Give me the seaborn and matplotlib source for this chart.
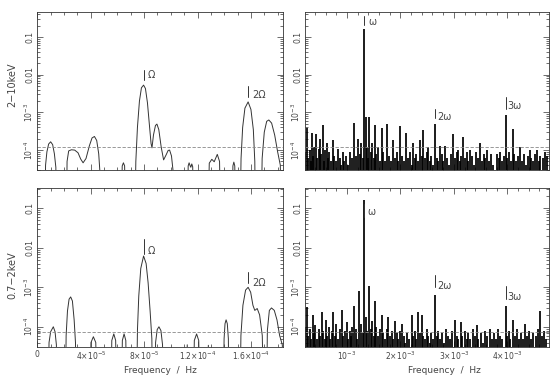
import matplotlib
matplotlib.use("Agg")
import matplotlib.pyplot as plt
import seaborn as sns
import numpy as np
import pandas as pd
from matplotlib.ticker import MultipleLocator, LogLocator, NullFormatter

# --- left panels: power spectrum around Omega (freq in 1e-6 Hz) ---
hard_freq = [5.6, 6.2, 7.2, 8.5, 10.0, 11.5, 12.8, 13.9, 14.4,
             21.8, 22.3, 23.5, 25.5, 28.0, 30.5, 32.5, 34.3, 36.5, 39.0, 41.0, 42.8, 44.5, 46.0, 46.8, 47.2,
             62.8, 63.6, 64.5, 65.4, 66.2,
             73.0, 73.8, 75.0, 76.5, 78.0, 79.6, 81.0, 82.5, 84.0, 85.2, 85.9, 87.0, 88.5, 89.6, 91.0, 92.8,
             94.6, 96.5, 98.0, 99.1, 100.5, 101.6, 102.0,
             112.5, 113.0, 113.7, 114.5, 115.0, 115.7, 116.4, 117.0,
             127.8, 128.8, 130.7, 132.5, 134.8, 136.5, 137.3,
             145.8, 146.5, 147.2, 147.9, 148.6,
             151.8, 152.6, 153.8, 155.5, 157.9, 160.0, 161.8, 162.9, 163.4,
             167.6, 168.4, 170.0, 171.8, 173.4, 175.5, 177.8, 180.0, 182.0, 182.8]
hard_pow = [1e-6, 4e-5, 9e-5, 1.45e-4, 1.66e-4, 1.4e-4, 8e-5, 3.5e-5, 1e-6,
            1e-6, 5e-5, 9.5e-5, 1.02e-4, 1.0e-4, 8.5e-5, 5.8e-5, 4.6e-5, 6e-5, 1.3e-4, 2.1e-4, 2.3e-4, 1.8e-4, 8e-5, 3e-5, 1e-6,
            1e-6, 3.8e-5, 4.6e-5, 3.8e-5, 1e-6,
            1e-6, 5e-5, 4e-4, 2e-3, 4.5e-3, 5.3e-3, 4.3e-3, 1.8e-3, 4.5e-4, 1.5e-4, 1.15e-4, 2.5e-4, 4.5e-4, 4.9e-4, 3.5e-4, 1.2e-4,
            5.5e-5, 7.5e-5, 9.8e-5, 1.0e-4, 7e-5, 3e-5, 1e-6,
            1e-6, 3.8e-5, 4.6e-5, 3.8e-5, 3.5e-5, 4.3e-5, 3.6e-5, 1e-6,
            1e-6, 4.5e-5, 5.7e-5, 4.9e-5, 7.7e-5, 5e-5, 1e-6,
            1e-6, 3.8e-5, 4.8e-5, 3.8e-5, 1e-6,
            1e-6, 6e-5, 4e-4, 1.3e-3, 1.9e-3, 1.2e-3, 3.5e-4, 5e-5, 1e-6,
            1e-6, 6e-5, 3e-4, 5.8e-4, 6.3e-4, 5.2e-4, 2.5e-4, 9e-5, 4e-5, 1e-6]

soft_freq = [8.0, 8.8, 10.0, 12.0, 13.3, 14.3, 14.8,
             21.0, 21.6, 22.6, 23.8, 25.0, 26.3, 27.6, 28.6, 29.0,
             39.3, 40.2, 42.0, 43.8, 44.8,
             55.0, 55.8, 57.3, 58.7, 59.4,
             63.0, 63.7, 65.0, 66.3, 67.0,
             74.3, 75.0, 76.0, 77.5, 79.6, 81.5, 83.0, 84.5, 85.8, 86.4,
             88.0, 88.6, 89.8, 91.1, 92.6, 93.8, 94.3,
             111.6, 112.3, 113.0,
             116.8, 117.6, 119.3, 120.9, 121.8,
             127.4, 128.1, 128.8,
             139.3, 139.9, 140.6, 141.4, 142.3, 143.1, 143.6,
             151.8, 152.5, 154.0, 156.0, 157.9, 159.8, 161.5, 162.9, 164.7, 166.5, 168.5, 169.5,
             171.7, 172.3, 173.8, 175.4, 177.5, 179.5, 181.5, 183.5, 184.5]
soft_pow = [1e-6, 4e-5, 7.5e-5, 1.0e-4, 7.5e-5, 3.5e-5, 1e-6,
            1e-6, 6e-5, 2.5e-4, 5e-4, 5.7e-4, 4.5e-4, 1.5e-4, 4e-5, 1e-6,
            1e-6, 4e-5, 5.6e-5, 4e-5, 1e-6,
            1e-6, 4.5e-5, 6.6e-5, 4.5e-5, 1e-6,
            1e-6, 4.5e-5, 6.6e-5, 4.5e-5, 1e-6,
            1e-6, 8e-5, 6e-4, 3e-3, 6.2e-3, 4e-3, 1.3e-3, 2.5e-4, 5e-5, 1e-6,
            1e-6, 4e-5, 8.5e-5, 1.0e-4, 8e-5, 3.5e-5, 1e-6,
            1e-6, 3.5e-5, 1e-6,
            1e-6, 4.5e-5, 6.6e-5, 4.5e-5, 1e-6,
            1e-6, 3.4e-5, 1e-6,
            1e-6, 5e-5, 1.2e-4, 1.5e-4, 1.2e-4, 5e-5, 1e-6,
            1e-6, 6e-5, 3.5e-4, 8.5e-4, 1.0e-3, 7.5e-4, 3.5e-4, 2.6e-4, 2.9e-4, 2e-4, 6e-5, 1e-6,
            1e-6, 8e-5, 2.6e-4, 3.0e-4, 2.6e-4, 1.5e-4, 6e-5, 3.5e-5, 1e-6]

# --- right panels: spike periodogram (freq in mHz, power in 1e-4) ---
hard_spk_f = [0.22, 0.245, 0.27, 0.30, 0.32, 0.339, 0.36, 0.39, 0.419, 0.44, 0.47, 0.494, 0.52, 0.545, 0.57,
              0.595, 0.62, 0.645, 0.67, 0.70, 0.738, 0.76, 0.79, 0.831, 0.86, 0.89, 0.925, 0.95, 0.98, 1.01,
              1.056, 1.09, 1.131, 1.16, 1.206, 1.235, 1.262, 1.29, 1.324, 1.346, 1.37, 1.39, 1.412, 1.44, 1.468,
              1.50, 1.524, 1.55, 1.581, 1.61, 1.650, 1.68, 1.71, 1.755, 1.78, 1.82, 1.861, 1.89, 1.93, 1.96,
              1.993, 2.02, 2.06, 2.105, 2.14, 2.18, 2.21, 2.236, 2.27, 2.30, 2.33, 2.367, 2.40, 2.429, 2.46,
              2.49, 2.517, 2.55, 2.58, 2.61, 2.648, 2.68, 2.71, 2.742, 2.77, 2.80, 2.835, 2.87, 2.90, 2.94,
              2.991, 3.02, 3.05, 3.079, 3.11, 3.14, 3.167, 3.20, 3.24, 3.27, 3.303, 3.34, 3.37, 3.41, 3.45,
              3.491, 3.52, 3.56, 3.59, 3.622, 3.66, 3.70, 3.74, 3.803, 3.84, 3.87, 3.91, 3.94, 3.97, 4.00,
              4.03, 4.07, 4.103, 4.13, 4.17, 4.20, 4.240, 4.27, 4.31, 4.35, 4.38, 4.419, 4.45, 4.49, 4.52,
              4.558, 4.59, 4.62, 4.66, 4.708, 4.74]
hard_spk_p = [0.9, 3.8, 0.6, 1.0, 0.5, 2.8, 0.7, 1.2, 2.7, 0.6, 1.1, 2.0, 0.8, 4.5, 0.5,
              1.0, 1.5, 0.6, 0.9, 0.5, 1.8, 0.7, 0.5, 1.1, 0.6, 0.4, 0.9, 0.5, 0.7, 0.4,
              0.9, 0.6, 5.2, 0.7, 2.0, 0.8, 1.5, 0.6, 1600, 7.5, 1.2, 0.6, 7.5, 0.9, 1.5,
              0.6, 4.6, 0.8, 1.2, 0.5, 3.8, 0.9, 0.5, 4.8, 0.7, 0.5, 1.8, 0.6, 0.9, 0.5,
              4.3, 0.7, 0.5, 2.8, 0.6, 0.9, 0.4, 1.5, 0.6, 0.8, 0.5, 1.8, 0.7, 3.4, 0.6,
              0.9, 1.2, 0.5, 0.7, 0.4, 4.9, 0.6, 0.5, 1.3, 0.8, 0.5, 1.3, 0.6, 0.4, 0.8,
              2.6, 0.6, 0.9, 1.0, 0.5, 0.7, 2.2, 0.6, 0.9, 0.5, 1.0, 0.7, 0.4, 0.9, 0.6,
              1.5, 0.5, 0.8, 0.6, 1.0, 0.5, 0.8, 0.4, 0.8, 0.6, 0.9, 0.5, 0.7, 8.5, 0.6,
              0.9, 0.5, 3.7, 0.8, 0.5, 0.7, 1.2, 0.5, 0.8, 0.4, 0.7, 1.0, 0.6, 0.5, 0.8,
              1.0, 0.5, 0.7, 0.6, 0.9, 0.7]

soft_spk_f = [0.22, 0.245, 0.27, 0.30, 0.33, 0.358, 0.38, 0.41, 0.44, 0.47, 0.50, 0.526, 0.55, 0.58, 0.607,
              0.63, 0.66, 0.69, 0.72, 0.743, 0.77, 0.80, 0.83, 0.86, 0.901, 0.93, 0.96, 0.994, 1.02, 1.05,
              1.08, 1.10, 1.131, 1.16, 1.19, 1.230, 1.26, 1.29, 1.324, 1.35, 1.38, 1.418, 1.44, 1.47, 1.50,
              1.524, 1.55, 1.58, 1.61, 1.650, 1.68, 1.71, 1.74, 1.773, 1.80, 1.84, 1.87, 1.899, 1.93, 1.96,
              1.99, 2.024, 2.06, 2.09, 2.12, 2.16, 2.212, 2.24, 2.27, 2.30, 2.335, 2.37, 2.399, 2.43, 2.46,
              2.49, 2.52, 2.55, 2.58, 2.61, 2.648, 2.68, 2.71, 2.74, 2.78, 2.81, 2.85, 2.89, 2.93, 2.97,
              3.022, 3.05, 3.08, 3.129, 3.16, 3.20, 3.24, 3.27, 3.31, 3.35, 3.39, 3.429, 3.46, 3.50, 3.54,
              3.58, 3.62, 3.678, 3.71, 3.75, 3.79, 3.83, 3.87, 3.91, 3.97, 3.99, 4.03, 4.06, 4.103, 4.14,
              4.18, 4.22, 4.26, 4.30, 4.333, 4.37, 4.41, 4.45, 4.49, 4.53, 4.57, 4.614, 4.65, 4.69, 4.73]
soft_spk_p = [1.0, 3.2, 0.6, 0.9, 0.5, 2.0, 0.7, 1.1, 0.5, 0.9, 0.6, 2.4, 0.8, 0.5, 1.5,
              0.6, 1.0, 0.5, 0.8, 2.4, 0.6, 1.2, 0.5, 0.9, 2.6, 0.6, 0.8, 1.3, 0.5, 0.8,
              0.6, 1.0, 3.3, 0.9, 0.5, 8.0, 1.2, 0.7, 1600, 1.8, 0.8, 11.0, 0.9, 1.4, 0.6,
              4.5, 1.0, 0.6, 0.9, 2.0, 0.7, 0.5, 0.9, 1.8, 0.6, 0.8, 0.5, 1.4, 0.7, 0.5,
              0.8, 1.2, 0.6, 0.4, 0.7, 0.5, 2.0, 0.6, 0.8, 0.5, 2.4, 0.7, 2.0, 0.6, 0.5,
              0.9, 0.6, 0.4, 0.7, 0.5, 6.3, 0.6, 0.8, 0.5, 0.7, 0.4, 0.9, 0.6, 0.5, 0.8,
              1.5, 0.6, 0.5, 1.3, 0.6, 0.8, 0.5, 0.7, 0.5, 0.9, 0.6, 1.1, 0.5, 0.7, 0.4,
              0.8, 0.6, 0.9, 0.5, 0.7, 0.5, 0.9, 0.6, 0.5, 3.3, 0.6, 0.8, 0.5, 1.5, 0.6,
              0.9, 0.5, 0.7, 0.5, 1.2, 0.6, 0.8, 0.5, 0.7, 0.6, 0.9, 2.5, 0.6, 0.8, 0.5]

# 99% levels (dashed)
hard_level = 1.2e-4
soft_level = 7.5e-5

# harmonic markers: (freq Hz, bar bottom, bar top, text x Hz, text y, text)
marks_hard_left = [(79.6e-6, 7.2e-3, 1.33e-2, 82.6e-6, 9.8e-3, "Ω"),
                   (157.9e-6, 2.6e-3, 5.0e-3, 160.8e-6, 2.9e-3, "2Ω")]
marks_soft_left = [(79.6e-6, 6.9e-3, 1.66e-2, 82.4e-6, 8.5e-3, "Ω"),
                   (157.6e-6, 1.26e-3, 2.5e-3, 160.8e-6, 1.3e-3, "2Ω")]
marks_hard_right = [(1.324e-3, 0.21, 0.36, 1.40e-3, 0.25, "ω"),
                    (2.648e-3, 7.1e-4, 1.26e-3, 2.68e-3, 7.6e-4, "2ω"),
                    (3.97e-3, 1.25e-3, 2.6e-3, 4.0e-3, 1.45e-3, "3ω")]
marks_soft_right = [(1.324e-3, 0.06, 0.13, 1.39e-3, 0.082, "ω"),
                    (2.648e-3, 1.0e-3, 2.0e-3, 2.68e-3, 1.05e-3, "2ω"),
                    (3.97e-3, 5.0e-4, 1.05e-3, 4.0e-3, 5.7e-4, "3ω")]

sns.set_style("ticks")
plt.rcParams['font.family'] = ['DejaVu Sans']
LINE = '#333333'
TXT = '#444444'

fig = plt.figure(figsize=(5.5, 3.77), dpi=100)
ax_hl = fig.add_axes([0.0678, 0.549, 0.4467, 0.419])
ax_hr = fig.add_axes([0.5545, 0.549, 0.4436, 0.419])
ax_sl = fig.add_axes([0.0678, 0.0796, 0.4467, 0.4218])
ax_sr = fig.add_axes([0.5545, 0.0796, 0.4436, 0.4218])

ytick_vals = [1e-4, 1e-3, 1e-2, 1e-1]
ytick_labs = ['10$^{-4}$', '10$^{-3}$', '0.01', '0.1']


def style_axes(ax, ylim, left):
    ax.set_yscale('log')
    ax.set_ylim(*ylim)
    ax.set_yticks(ytick_vals)
    ax.set_yticklabels(ytick_labs, rotation=90, va='center')
    ax.yaxis.set_minor_locator(LogLocator(base=10, subs=np.arange(2, 10)))
    ax.yaxis.set_minor_formatter(NullFormatter())
    if left:
        ax.set_xlim(0, 1.84e-4)
        ax.set_xticks([0, 4e-5, 8e-5, 1.2e-4, 1.6e-4])
        ax.set_xticklabels(['0', '4×10$^{-5}$', '8×10$^{-5}$', '1.2×10$^{-4}$', '1.6×10$^{-4}$'])
        ax.xaxis.set_minor_locator(MultipleLocator(1e-5))
    else:
        ax.set_xlim(0.213e-3, 4.78e-3)
        ax.set_xticks([1e-3, 2e-3, 3e-3, 4e-3])
        ax.set_xticklabels(['10$^{-3}$', '2×10$^{-3}$', '3×10$^{-3}$', '4×10$^{-3}$'])
        ax.xaxis.set_minor_locator(MultipleLocator(2e-4))
    ax.tick_params(which='both', direction='in', top=True, right=True,
                   color=LINE, width=0.5, labelsize=5.5, labelcolor=TXT, pad=2)
    ax.tick_params(which='major', length=4)
    ax.tick_params(which='minor', length=2)
    for s in ax.spines.values():
        s.set_linewidth(0.6)
        s.set_color(LINE)
    ax.set_xlabel('')
    ax.set_ylabel('')


def add_marks(ax, marks):
    for f, lo, hi, tx, ty, txt in marks:
        ax.plot([f, f], [lo, hi], color=LINE, lw=0.7)
        ax.text(tx, ty, txt, fontsize=7, color=TXT, ha='left', va='center')


# left curves
for ax, fr, pw, lvl, marks in [(ax_hl, hard_freq, hard_pow, hard_level, marks_hard_left),
                               (ax_sl, soft_freq, soft_pow, soft_level, marks_soft_left)]:
    df = pd.DataFrame({'freq': np.array(fr) * 1e-6, 'power': pw})
    sns.lineplot(data=df, x='freq', y='power', ax=ax, sort=False, estimator=None,
                 color=LINE, lw=0.7)
    ax.axhline(lvl, color='#888888', lw=0.6, ls=(0, (4, 2)))
    add_marks(ax, marks)

# right spikes
for ax, fr, pw, lvl, marks in [(ax_hr, hard_spk_f, hard_spk_p, hard_level, marks_hard_right),
                               (ax_sr, soft_spk_f, soft_spk_p, soft_level, marks_soft_right)]:
    f = np.array(fr) * 1e-3
    p = np.array(pw) * 1e-4
    ax.vlines(f, 1e-6, p, color='black', lw=1.25)
    ax.axhline(lvl, color='#888888', lw=0.6, ls=(0, (4, 2)))
    add_marks(ax, marks)

style_axes(ax_hl, (2.96e-5, 0.46), True)
style_axes(ax_hr, (2.96e-5, 0.46), False)
style_axes(ax_sl, (3.08e-5, 0.327), True)
style_axes(ax_sr, (3.08e-5, 0.327), False)

ax_hl.tick_params(labelbottom=False)
ax_hr.tick_params(labelbottom=False)

ax_hl.set_ylabel('2−10keV', fontsize=7, color=TXT)
ax_hl.yaxis.set_label_coords(-0.08, 0.54)
ax_sl.set_ylabel('0.7−2keV', fontsize=7, color=TXT)
ax_sl.yaxis.set_label_coords(-0.08, 0.45)

ax_sl.set_xlabel('Frequency  /  Hz', fontsize=6.5, color=TXT)
ax_sl.xaxis.set_label_coords(0.5, -0.12)
ax_sr.set_xlabel('Frequency  /  Hz', fontsize=6.5, color=TXT)
ax_sr.xaxis.set_label_coords(0.57, -0.12)

fig.savefig('out.png', dpi=100)
